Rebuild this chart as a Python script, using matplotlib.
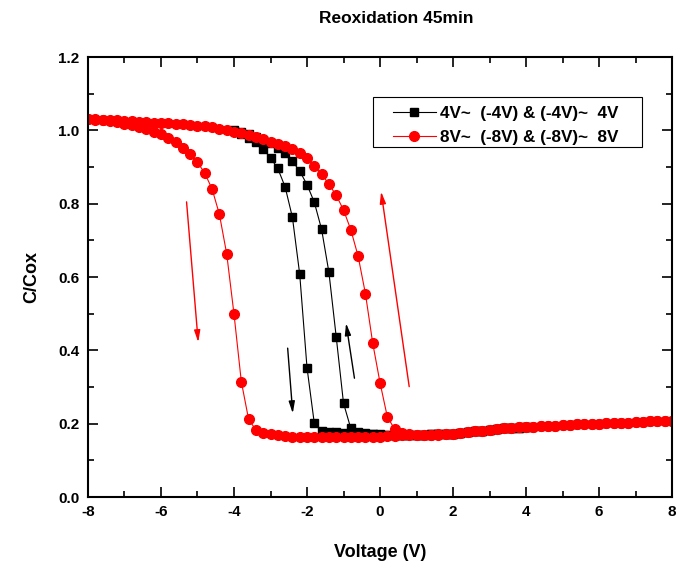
import numpy as np
import matplotlib.pyplot as plt
from matplotlib.patches import Rectangle
from matplotlib.ticker import MultipleLocator

plt.rcParams['font.family'] = ['Liberation Sans', 'DejaVu Sans']
plt.rcParams['font.weight'] = 'bold'
plt.rcParams['axes.unicode_minus'] = False

# +-4 V sweep, 0.2 V steps
v4_down = [4.0, 3.8, 3.6, 3.4, 3.2, 3.0, 2.8, 2.6, 2.4, 2.2, 2.0, 1.8, 1.6, 1.4,
           1.2, 1.0, 0.8, 0.6, 0.4, 0.2, 0.0, -0.2, -0.4, -0.6, -0.8, -1.0, -1.2,
           -1.4, -1.6, -1.8, -2.0, -2.2, -2.4, -2.6, -2.8, -3.0, -3.2, -3.4, -3.6,
           -3.8, -4.0]
c4_down = [0.190, 0.189, 0.188, 0.187, 0.185, 0.183, 0.181, 0.179, 0.177, 0.175,
           0.173, 0.172, 0.171, 0.171, 0.170, 0.170, 0.170, 0.170, 0.170, 0.170,
           0.170, 0.171, 0.172, 0.173, 0.174, 0.175, 0.176, 0.177, 0.181, 0.201,
           0.353, 0.608, 0.763, 0.846, 0.896, 0.925, 0.949, 0.967, 0.980, 0.990,
           0.998]
v4_up = [-4.0, -3.8, -3.6, -3.4, -3.2, -3.0, -2.8, -2.6, -2.4, -2.2, -2.0, -1.8,
         -1.6, -1.4, -1.2, -1.0, -0.8, -0.6, -0.4, -0.2, 0.0, 0.2, 0.4, 0.6, 0.8,
         1.0, 1.2, 1.4, 1.6, 1.8, 2.0, 2.2, 2.4, 2.6, 2.8, 3.0, 3.2, 3.4, 3.6, 3.8,
         4.0]
c4_up = [1.000, 0.995, 0.989, 0.982, 0.974, 0.965, 0.952, 0.937, 0.916, 0.889,
         0.852, 0.804, 0.730, 0.613, 0.437, 0.256, 0.187, 0.178, 0.175, 0.173,
         0.171, 0.170, 0.170, 0.170, 0.170, 0.170, 0.170, 0.171, 0.171, 0.172,
         0.173, 0.175, 0.177, 0.179, 0.181, 0.183, 0.185, 0.187, 0.188, 0.189,
         0.190]

# +-8 V sweep, 0.2 V steps
v8_down = [8.0, 7.8, 7.6, 7.4, 7.2, 7.0, 6.8, 6.6, 6.4, 6.2, 6.0, 5.8, 5.6, 5.4,
           5.2, 5.0, 4.8, 4.6, 4.4, 4.2, 4.0, 3.8, 3.6, 3.4, 3.2, 3.0, 2.8, 2.6,
           2.4, 2.2, 2.0, 1.8, 1.6, 1.4, 1.2, 1.0, 0.8, 0.6, 0.4, 0.2, 0.0, -0.2,
           -0.4, -0.6, -0.8, -1.0, -1.2, -1.4, -1.6, -1.8, -2.0, -2.2, -2.4, -2.6,
           -2.8, -3.0, -3.2, -3.4, -3.6, -3.8, -4.0, -4.2, -4.4, -4.6, -4.8, -5.0,
           -5.2, -5.4, -5.6, -5.8, -6.0, -6.2, -6.4, -6.6, -6.8, -7.0, -7.2, -7.4,
           -7.6, -7.8, -8.0]
c8_down = [0.208, 0.207, 0.207, 0.206, 0.205, 0.204, 0.203, 0.203, 0.202, 0.201,
           0.200, 0.199, 0.199, 0.198, 0.197, 0.196, 0.195, 0.194, 0.193, 0.192,
           0.191, 0.190, 0.189, 0.188, 0.186, 0.184, 0.181, 0.179, 0.177, 0.175,
           0.173, 0.172, 0.171, 0.170, 0.169, 0.169, 0.169, 0.168, 0.167, 0.166,
           0.165, 0.165, 0.164, 0.164, 0.163, 0.163, 0.163, 0.163, 0.163, 0.164,
           0.164, 0.165, 0.165, 0.166, 0.168, 0.171, 0.175, 0.183, 0.212, 0.315,
           0.499, 0.663, 0.771, 0.840, 0.883, 0.913, 0.935, 0.953, 0.967, 0.980,
           0.989, 0.996, 1.003, 1.009, 1.014, 1.018, 1.022, 1.025, 1.027, 1.029,
           1.031]
v8_up = [-8.0, -7.8, -7.6, -7.4, -7.2, -7.0, -6.8, -6.6, -6.4, -6.2, -6.0, -5.8,
         -5.6, -5.4, -5.2, -5.0, -4.8, -4.6, -4.4, -4.2, -4.0, -3.8, -3.6, -3.4,
         -3.2, -3.0, -2.8, -2.6, -2.4, -2.2, -2.0, -1.8, -1.6, -1.4, -1.2, -1.0,
         -0.8, -0.6, -0.4, -0.2, 0.0, 0.2, 0.4, 0.6, 0.8, 1.0, 1.2, 1.4, 1.6, 1.8,
         2.0, 2.2, 2.4, 2.6, 2.8, 3.0, 3.2, 3.4, 3.6, 3.8, 4.0, 4.2, 4.4, 4.6, 4.8,
         5.0, 5.2, 5.4, 5.6, 5.8, 6.0, 6.2, 6.4, 6.6, 6.8, 7.0, 7.2, 7.4, 7.6, 7.8,
         8.0]
c8_up = [1.031, 1.030, 1.029, 1.028, 1.027, 1.026, 1.025, 1.024, 1.023, 1.021,
         1.020, 1.019, 1.018, 1.016, 1.015, 1.013, 1.012, 1.009, 1.005, 1.001,
         0.996, 0.992, 0.987, 0.982, 0.976, 0.969, 0.962, 0.956, 0.948, 0.938,
         0.924, 0.904, 0.881, 0.853, 0.823, 0.783, 0.729, 0.657, 0.555, 0.420,
         0.312, 0.219, 0.185, 0.175, 0.172, 0.170, 0.169, 0.169, 0.170, 0.171,
         0.173, 0.175, 0.177, 0.179, 0.181, 0.184, 0.186, 0.188, 0.189, 0.190,
         0.191, 0.192, 0.193, 0.194, 0.195, 0.196, 0.197, 0.198, 0.199, 0.199,
         0.200, 0.201, 0.202, 0.203, 0.203, 0.204, 0.205, 0.206, 0.207, 0.207,
         0.208]

labels = ['4V~  (-4V) & (-4V)~  4V', '8V~  (-8V) & (-8V)~  8V']

fig = plt.figure(figsize=(6.79, 5.72), dpi=100)
ax = fig.add_axes([0.1296, 0.1311, 0.8601, 0.7692])

ax.plot(v4_down, c4_down, '-s', color='black', lw=0.8, ms=6.0, label=labels[0])
ax.plot(v4_up, c4_up, '-s', color='black', lw=0.8, ms=6.0)
ax.plot(v8_down, c8_down, '-o', color='red', lw=0.8, ms=7.0, label=labels[1])
ax.plot(v8_up, c8_up, '-o', color='red', lw=0.8, ms=7.0)

# sweep direction arrows
def arrow(x0, y0, x1, y1, color):
    ax.annotate('', xy=(x1, y1), xytext=(x0, y0),
                arrowprops=dict(arrowstyle='-|>,head_length=0.7,head_width=0.18',
                                color=color, lw=1.0, shrinkA=0, shrinkB=0))

arrow(-2.53, 0.406, -2.39, 0.228, 'black')
arrow(-0.70, 0.324, -0.93, 0.474, 'black')
arrow(0.80, 0.301, 0.03, 0.833, 'red')
arrow(-5.30, 0.805, -4.98, 0.422, 'red')

ax.set_xlim(-8, 8)
ax.set_ylim(0, 1.2)
ax.xaxis.set_major_locator(MultipleLocator(2))
ax.xaxis.set_minor_locator(MultipleLocator(1))
ax.yaxis.set_major_locator(MultipleLocator(0.2))
ax.yaxis.set_minor_locator(MultipleLocator(0.1))
ax.yaxis.set_major_formatter(plt.FormatStrFormatter('%.1f'))
ax.tick_params(which='both', direction='in', top=True, right=True,
               labelsize=11, width=1.2)
ax.tick_params(which='major', length=7, pad=6)
ax.tick_params(which='minor', length=4)
for lab in ax.get_xticklabels() + ax.get_yticklabels():
    lab.set_fontweight('bold')
for sp in ax.spines.values():
    sp.set_linewidth(1.5)

ax.set_xlabel('Voltage (V)', fontsize=13, fontweight='bold', labelpad=18)
ax.set_ylabel('C/Cox', fontsize=13, fontweight='bold', labelpad=13)
fig.text(0.583, 0.967, 'Reoxidation 45min', ha='center', va='center',
         fontsize=12.5, fontweight='bold')

# legend entries without frame, box drawn separately
leg = ax.legend(loc='upper left', bbox_to_anchor=(0.522, 0.888), fontsize=12.3,
                frameon=False, handlelength=2.5, handletextpad=0.25,
                borderpad=0, labelspacing=0.48, borderaxespad=0)
ax.add_patch(Rectangle((0.488, 0.795), 0.461, 0.114, transform=ax.transAxes,
                       fill=False, edgecolor='black', lw=0.8, zorder=5))

fig.savefig('out.png', dpi=100)
